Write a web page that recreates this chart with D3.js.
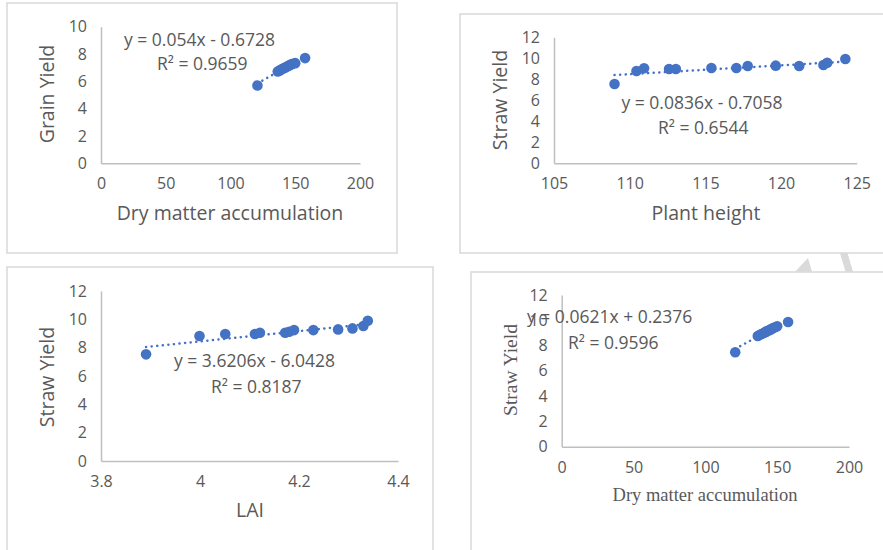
<!DOCTYPE html>
<html><head><meta charset="utf-8">
<script src="https://cdn.jsdelivr.net/npm/d3@7"></script>
<style>body{margin:0;background:#fff}svg{display:block}</style>
</head><body><svg id="c" width="883" height="550"></svg>
<script>
// ---------- data ----------
const dryMatter        = [120.8, 136.5, 138.0, 139.5, 141.0, 142.0, 143.0, 144.5, 145.5, 146.5, 148.0, 150.0, 157.6];
const grainYield       = [5.70, 6.72, 6.80, 6.88, 6.95, 7.00, 7.05, 7.12, 7.17, 7.22, 7.28, 7.33, 7.70];
const strawByDryMatter = [7.47, 8.76, 8.86, 8.94, 9.02, 9.08, 9.14, 9.22, 9.28, 9.34, 9.42, 9.52, 9.86];
const plantHeight      = [109.0, 110.45, 110.95, 112.6, 113.05, 115.4, 117.05, 117.8, 119.65, 121.2, 122.8, 123.05, 124.25];
const strawByHeight    = [7.55, 8.79, 9.05, 8.98, 8.98, 9.08, 9.08, 9.27, 9.30, 9.27, 9.36, 9.58, 9.93];
const lai              = [3.891, 3.999, 4.051, 4.111, 4.121, 4.172, 4.180, 4.190, 4.229, 4.279, 4.308, 4.330, 4.339];
const strawByLai       = [7.53, 8.82, 8.96, 8.96, 9.05, 9.05, 9.12, 9.24, 9.24, 9.29, 9.36, 9.53, 9.90];

const fitSlopes     = [0.054, 0.0836, 3.6206, 0.0621];
const fitIntercepts = [-0.6728, -0.7058, -6.0428, 0.2376];
const equationLabels = ["y = 0.054x - 0.6728", "y = 0.0836x - 0.7058", "y = 3.6206x - 6.0428", "y = 0.0621x + 0.2376"];
const r2Labels       = ["R\u00b2 = 0.9659", "R\u00b2 = 0.6544", "R\u00b2 = 0.8187", "R\u00b2 = 0.9596"];
const xTitles = ["Dry matter accumulation", "Plant height", "LAI", "Dry matter accumulation"];
const yTitles = ["Grain Yield", "Straw Yield", "Straw Yield", "Straw Yield"];

const xTicksDryMatter = [0, 50, 100, 150, 200];
const xTicksHeight    = [105, 110, 115, 120, 125];
const xTicksLai       = [3.8, 4.0, 4.2, 4.4];
const yTicks10        = [0, 2, 4, 6, 8, 10];
const yTicks12        = [0, 2, 4, 6, 8, 10, 12];

// ---------- layout ----------
const panels = [
  {frame:[7,3,390,250],   xr:[101,360],   yr:[163.3,26.7], xd:[0,200],   yd:[0,10], xt:xTicksDryMatter, yt:yTicks10,
   xs:dryMatter, ys:grainYield, xTitle:[230,213], yTitle:[47,94], eq:[[124,40],[157,64]], serif:false},
  {frame:[460,14,440,239], xr:[554,856.7], yr:[163.3,37.3], xd:[105,125], yd:[0,12], xt:xTicksHeight, yt:yTicks12,
   xs:plantHeight, ys:strawByHeight, xTitle:[706,213], yTitle:[500,100], eq:[[621.5,103],[658,128]], serif:false},
  {frame:[7,267,426,300], xr:[101,398],   yr:[461,291],    xd:[3.8,4.4], yd:[0,12], xt:xTicksLai, yt:yTicks12,
   xs:lai, ys:strawByLai, xTitle:[250,510], yTitle:[47,377], eq:[[174,361],[211,386.5]], serif:false},
  {frame:[471,272,430,300], xr:[561.7,849], yr:[446.7,295], xd:[0,200],  yd:[0,12], xt:xTicksDryMatter, yt:yTicks12,
   xs:dryMatter, ys:strawByDryMatter, xTitle:[705,495], yTitle:[510,370], eq:[[527,317],[568,343]], serif:true}
];

const svg = d3.select("#c");
const SANS = "'Open Sans', 'Noto Sans', sans-serif";
const SERIF = "'Liberation Serif', 'DejaVu Serif', serif";
const TXT = "#595959", AXIS = "#bfbfbf", BLUE = "#4472C4";

// faint watermark fragments in the gap
svg.append("polygon").attr("points","795,271.7 808,258 812,271.7").attr("fill","#dadada");
svg.append("polygon").attr("points","840,253 847.5,253 853,271.7 845.5,271.7").attr("fill","#dadada");

panels.forEach((p, i) => {
  const g = svg.append("g");
  g.append("rect").attr("x",p.frame[0]).attr("y",p.frame[1]).attr("width",p.frame[2]).attr("height",p.frame[3])
    .attr("fill","#fff").attr("stroke","#d9d9d9").attr("stroke-width",1.5);

  const x = d3.scaleLinear().domain(p.xd).range(p.xr);
  const y = d3.scaleLinear().domain(p.yd).range(p.yr);

  const fmt = d => String(+d.toFixed(1));
  const xa = g.append("g").attr("transform",`translate(0,${p.yr[0]})`)
    .call(d3.axisBottom(x).tickValues(p.xt).tickFormat(fmt).tickSize(0).tickSizeOuter(0).tickPadding(14.5));
  const ya = g.append("g").attr("transform",`translate(${p.xr[0]},0)`)
    .call(d3.axisLeft(y).tickValues(p.yt).tickFormat(fmt).tickSize(0).tickSizeOuter(0).tickPadding(14));
  [xa, ya].forEach(a => {
    a.select(".domain").attr("stroke",AXIS).attr("stroke-width",1.5);
    a.selectAll("text").attr("fill",TXT).style("font-family",SANS).style("font-size","16px");
  });

  // trendline
  const ext = d3.extent(p.xs);
  const line = d3.line().x(d => x(d)).y(d => y(fitSlopes[i]*d + fitIntercepts[i]));
  g.append("path").attr("d", line(ext)).attr("fill","none").attr("stroke",BLUE)
    .attr("stroke-width",2.5).attr("stroke-linecap","round").attr("stroke-dasharray","0.1 5.5");

  // points
  g.selectAll("circle.pt").data(p.xs.map((v,k)=>[v,p.ys[k]])).join("circle").attr("class","pt")
    .attr("cx",d=>x(d[0])).attr("cy",d=>y(d[1])).attr("r",5.3).attr("fill",BLUE);

  // equations
  [equationLabels[i], r2Labels[i]].forEach((t,k) => {
    g.append("text").attr("x",p.eq[k][0]).attr("y",p.eq[k][1]).attr("dy","0.35em")
      .attr("fill",TXT).style("font-family",SANS).style("font-size","17.5px").text(t);
  });

  // titles
  const ff = p.serif ? SERIF : SANS;
  g.append("text").attr("x",p.xTitle[0]).attr("y",p.xTitle[1]).attr("dy","0.35em").attr("text-anchor","middle")
    .attr("fill",TXT).style("font-family",ff).style("font-size",p.serif?"18.5px":"19.5px").text(xTitles[i]);
  g.append("text").attr("transform",`translate(${p.yTitle[0]},${p.yTitle[1]}) rotate(-90)`).attr("dy","0.35em")
    .attr("text-anchor","middle").attr("fill",TXT).style("font-family",ff).style("font-size",p.serif?"19.5px":"19.5px")
    .text(yTitles[i]);
});
</script></body></html>
